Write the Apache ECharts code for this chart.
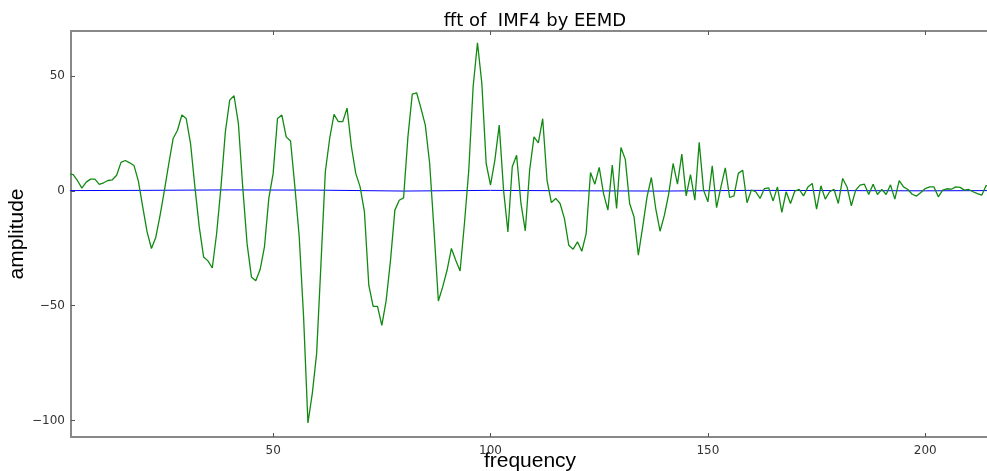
<!DOCTYPE html>
<html>
<head>
<meta charset="utf-8">
<title>fft of IMF4 by EEMD</title>
<script src="https://cdn.jsdelivr.net/npm/echarts@6/dist/echarts.min.js"></script>
<style>
  html, body { margin: 0; padding: 0; background: #fff; }
  #main { width: 987px; height: 471px; }
</style>
</head>
<body>
<div id="main"></div>
<script>
//frequency of the first green point, one point per unit after it
var firstFreq = 3;

//green line: fft of IMF4
var imfAmp = [
  7.5, 7.1, 4.4, 1.2, 3.8, 5.1, 5.1, 2.8, 3.5, 4.5,
  4.8, 6.8, 12.4, 13.2, 12.2, 11.0, 4.2, -7.0, -17.9, -25.1,
  -20.3, -10.6, 0.3, 11.9, 22.8, 26.4, 33.0, 31.5, 20.6, 1.7,
  -15.7, -28.8, -30.5, -33.6, -18.6, 1.7, 25.5, 39.5, 41.4, 29.4,
  1.7, -23.0, -37.5, -39.2, -34.3, -24.4, -3.3, 7.6, 31.5, 33.0,
  23.5, 21.7, 1.7, -20.1, -54.9, -101.1, -88.3, -70.9, -31.7, 8.3,
  22.8, 33.3, 30.1, 30.1, 36.0, 19.2, 7.6, 1.7, -9.2, -41.1,
  -50.3, -50.3, -58.6, -47.7, -30.2, -8.4, -4.1, -3.1, 23.5, 42.1,
  42.7, 35.9, 28.6, 11.9, -17.1, -48.0, -41.8, -34.6, -25.1, -30.2,
  -34.9, -14.2, 9.0, 45.3, 64.5, 46.8, 11.9, 2.5, 13.4, 28.6,
  0.3, -17.9, 10.5, 15.5, -5.5, -17.4, 9.0, 23.5, 20.9, 31.4,
  4.6, -5.1, -3.3, -5.5, -12.1, -23.7, -25.4, -22.2, -26.3, -18.6,
  8.0, 2.9, 10.2, -1.2, -8.4, 11.2, -7.7, 18.9, 13.7, -5.5,
  -11.3, -28.0, -15.7, -2.6, 5.8, -7.7, -17.6, -10.6, -1.2, 11.9,
  2.9, 16.0, -2.2, 7.1, -4.1, 21.1, 0.3, -4.8, 10.9, -7.3,
  1.7, 10.0, -2.9, -2.2, 7.6, 9.0, -5.2, 0.3, -0.4, -3.3,
  1.0, 1.3, -4.4, 1.7, -9.4, -0.4, -5.5, -0.1, 0.6, -2.2,
  1.7, 3.2, -8.0, 2.2, -3.6, -0.4, 0.7, -5.5, 5.4, 1.7,
  -6.5, 0.3, 2.5, 2.9, -1.6, 2.9, -1.6, 0.6, -1.6, 2.6,
  -3.6, 4.4, 1.7, 0.6, -1.5, -2.3, -0.7, 1.0, 1.7, 1.7,
  -2.6, 0.3, 0.9, 0.7, 1.7, 1.5, 0.3, 0.6, -0.4, -1.2,
  -1.9, 2.3, 1.5
];

//blue line, stays close to zero
var baseFreq = [3, 20, 40, 60, 80, 100, 120, 140, 160, 180, 200, 215];
var baseAmp = [0.1, 0.2, 0.4, 0.3, -0.1, 0.2, 0.0, -0.1, 0.2, 0.1, 0.0, 0.1];

var xTicks = [50, 100, 150, 200];
var yTicks = [-100, -50, 0, 50];

var imfData = imfAmp.map(function(v, i){ return [firstFreq + i, v]; })
,baseData = baseFreq.map(function(f, i){ return [f, baseAmp[i]]; })
,minus = function(v){ return String(v).replace('-', '\u2212'); }
,spine = { show: true, onZero: false, lineStyle: { color: '#888', width: 2 } }
,tick = { show: true, inside: true, length: 4, lineStyle: { color: '#555' } }
,tickLabel = { color: '#333', fontSize: 12, fontFamily: 'DejaVu Sans' }
,nameFont = '21px "Liberation Sans"';

var chart = echarts.init(document.getElementById('main'), null, { renderer: 'canvas' });

chart.setOption({
  backgroundColor: '#fff',
  animation: false,
  title: {
    text: 'fft of  IMF4 by EEMD',
    left: 530,
    top: 7,
    textAlign: 'center',
    textStyle: { fontFamily: 'DejaVu Sans', fontSize: 18, fontWeight: 'normal', color: '#000' }
  },
  //axis titles
  graphic: [
    {
      type: 'text', x: 530, y: 461,
      style: { text: 'frequency', font: nameFont, fill: '#000', align: 'center', verticalAlign: 'middle' }
    },
    {
      type: 'text', x: 17, y: 234, rotation: Math.PI / 2,
      style: { text: 'amplitude', font: nameFont, fill: '#000', align: 'center', verticalAlign: 'middle' }
    }
  ],
  grid: { left: 71, right: 0, top: 31, bottom: 34, containLabel: false, outerBoundsMode: 'none' },
  xAxis: [
    {
      type: 'value', min: 3.5, max: 214.2,
      axisLine: spine,
      axisTick: Object.assign({ customValues: xTicks }, tick),
      axisLabel: Object.assign({ customValues: xTicks, margin: 8 }, tickLabel),
      splitLine: { show: false }
    },
    {
      type: 'value', min: 3.5, max: 214.2, position: 'top',
      axisLine: spine,
      axisTick: Object.assign({ customValues: xTicks }, tick),
      axisLabel: { show: false },
      splitLine: { show: false }
    }
  ],
  yAxis: {
    type: 'value', min: -107.2, max: 69.6,
    axisLine: spine,
    axisTick: Object.assign({ customValues: yTicks }, tick),
    axisLabel: Object.assign({ customValues: yTicks, margin: 6, formatter: minus }, tickLabel),
    splitLine: { show: false }
  },
  series: [
    {
      type: 'line', data: baseData, showSymbol: false, clip: true,
      lineStyle: { color: '#0000ff', width: 1 }
    },
    {
      type: 'line', data: imfData, showSymbol: false, clip: true,
      lineStyle: { color: '#118a11', width: 1.3 }
    }
  ]
});
</script>
</body>
</html>
